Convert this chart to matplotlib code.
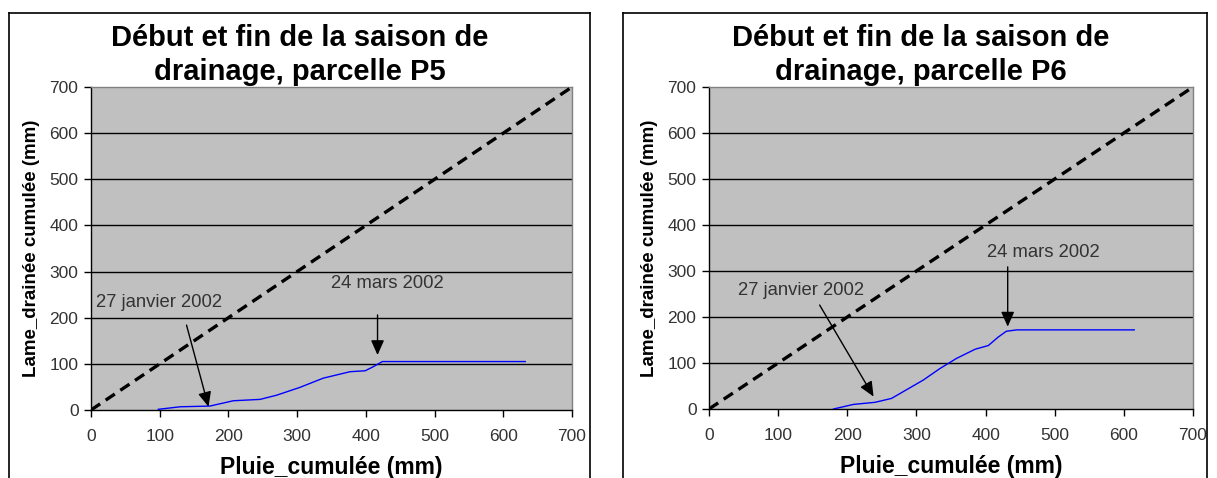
import matplotlib
matplotlib.use("Agg")
import matplotlib.pyplot as plt
from matplotlib.lines import Line2D

plt.rcParams['font.family'] = ['Liberation Sans', 'DejaVu Sans']

# Data
p5_rain = [98, 130, 173, 207, 246, 270, 304, 338, 377, 399, 411, 424, 632]
p5_drain = [1.5, 7, 8.5, 20, 23, 32, 49, 69, 83, 85, 94, 105, 105]
p6_rain = [180, 209, 240, 264, 310, 334, 358, 385, 404, 418, 430, 445, 615]
p6_drain = [0, 10, 14.5, 23, 63, 88, 110, 130, 138, 156, 169, 172, 172]
ref_line = [0, 700]

titles = ["Début et fin de la saison de\ndrainage, parcelle P5",
          "Début et fin de la saison de\ndrainage, parcelle P6"]
xlabel = "Pluie_cumulée (mm)"
ylabel = "Lame_drainée cumulée (mm)"
ticks = [0, 100, 200, 300, 400, 500, 600, 700]

# annotations: (text, text_xy, arrow_tail, arrow_head)
ann_p5 = [("27 janvier 2002", (99, 233), (139, 184), (171, 7)),
          ("24 mars 2002", (431, 274), (417, 206), (417, 119))]
ann_p6 = [("27 janvier 2002", (133, 258), (160, 226), (238, 27)),
          ("24 mars 2002", (483, 340), (432, 309), (432, 179))]

W, H = 1217, 478
fig = plt.figure(figsize=(W / 100, H / 100), dpi=100)

# chart frames
def frame(x0, x1, y0=13):
    fx0, fx1 = x0 / W, x1 / W
    fy = 1 - y0 / H
    fig.add_artist(Line2D([fx0, fx1], [fy, fy], color='black', lw=1.2, transform=fig.transFigure))
    fig.add_artist(Line2D([fx0, fx0], [fy, 0], color='black', lw=1.2, transform=fig.transFigure))
    fig.add_artist(Line2D([fx1, fx1], [fy, 0], color='black', lw=1.2, transform=fig.transFigure))

frame(9, 590)
frame(623, 1207)

panels = [
    ((91, 572, 87, 410), p5_rain, p5_drain, titles[0], ann_p5, 300),
    ((709, 1193, 87, 409), p6_rain, p6_drain, titles[1], ann_p6, 921),
]

for (x0, x1, y0, y1), rx, dy, title, anns, tcx in panels:
    ax = fig.add_axes([x0 / W, 1 - y1 / H, (x1 - x0) / W, (y1 - y0) / H])
    ax.set_facecolor('#c0c0c0')
    ax.set_xlim(0, 700)
    ax.set_ylim(0, 700)
    ax.set_xticks(ticks)
    ax.set_yticks(ticks)
    for y in ticks[1:-1]:
        ax.axhline(y, color='black', lw=1.0, zorder=1)
    ax.plot(ref_line, ref_line, color='black', lw=2.4, ls=(0, (3.3, 2)), zorder=3)
    ax.plot(rx, dy, color='#0000ff', lw=1.0, zorder=4)
    for sp in ['top', 'right']:
        ax.spines[sp].set_color('#808080')
        ax.spines[sp].set_linewidth(1.0)
    for sp in ['left', 'bottom']:
        ax.spines[sp].set_color('black')
        ax.spines[sp].set_linewidth(1.0)
    ax.tick_params(direction='out', length=5, width=1, colors='black',
                   labelsize=12.5, labelcolor='#333333', pad=4)
    ax.tick_params(axis='x', pad=9)
    ax.set_xlabel(xlabel, fontsize=16.5, fontweight='bold', labelpad=8)
    ax.set_ylabel(ylabel, fontsize=13.5, fontweight='bold', labelpad=7)
    for txt, txy, tail, head in anns:
        ax.text(txy[0], txy[1], txt, fontsize=13.3, color='#333333',
                ha='center', va='center', zorder=6)
        ax.annotate('', xy=head, xytext=tail,
                    arrowprops=dict(arrowstyle='-|>,head_length=0.9,head_width=0.4',
                                    color='black', lw=1.0, shrinkA=0, shrinkB=0),
                    zorder=6)
    fig.text(tcx / W, 1 - 55 / H, title, fontsize=21, fontweight='bold',
             ha='center', va='center', linespacing=1.25)

fig.savefig('out.png', dpi=100)
